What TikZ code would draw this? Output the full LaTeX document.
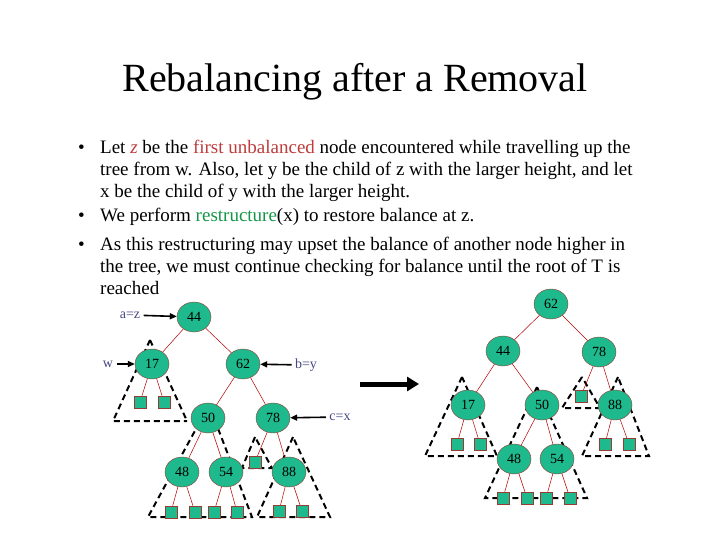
\documentclass[tikz,border=0pt]{standalone}
\usepackage{fontspec}
\setmainfont{Liberation Serif}
\usetikzlibrary{shapes.geometric,arrows.meta}
\definecolor{nfill}{RGB}{30,185,140}
\definecolor{nbord}{RGB}{150,60,50}
\definecolor{redt}{RGB}{190,60,60}
\definecolor{greent}{RGB}{20,150,70}
\definecolor{labt}{RGB}{70,70,130}
\tikzset{
 tn/.style={ellipse,draw=nbord,fill=nfill,minimum width=34,minimum height=30,inner sep=0,font=\fontsize{14}{14}\selectfont},
 lf/.style={rectangle,draw=nbord,fill=nfill,minimum size=12,inner sep=0},
 ed/.style={draw=red!70!black,line width=0.5},
 tri/.style={draw,dashed,line width=2,dash pattern=on 6pt off 4pt},
 lab/.style={font=\fontsize{14}{14}\selectfont,text=labt},
 la/.style={-{Triangle[length=7pt,width=6pt]},line width=1.6},
 tx/.style={anchor=base west,font=\fontsize{19}{22}\selectfont,inner sep=0}
}
\begin{document}
\begin{tikzpicture}[x=1pt,y=-1pt]
\useasboundingbox (0,0) rectangle (720,540);
\node[anchor=base,font=\fontsize{40}{46}\selectfont,inner sep=0] (title) at (355,92) {Rebalancing after a Removal};
\node[tx] (b1) at (78,154) {•};
\node[tx] (l1) at (100,154) {Let \textcolor{redt}{\itshape z} be the \textcolor{redt}{first unbalanced} node encountered while travelling up the};
\node[tx] (l2) at (100,176) {tree from w. Also, let y be the child of z with the larger height, and let};
\node[tx] (l3) at (100,198) {x be the child of y with the larger height.};
\node[tx] (b2) at (78,222) {•};
\node[tx] (l4) at (100,222) {We perform \textcolor{greent}{restructure}(x) to restore balance at z.};
\node[tx] (b3) at (78,250) {•};
\node[tx] (l5) at (100,250) {As this restructuring may upset the balance of another node higher in};
\node[tx] (l6) at (100,272) {the tree, we must continue checking for balance until the root of T is};
\node[tx] (l7) at (100,294) {reached};
% left tree triangles
\draw[tri] (150,340) -- (113,421) -- (187,421);
\draw[tri] (150,340) -- (187,421);
\draw[tri] (209,405) -- (148,517) -- (252,517) -- cycle;
\draw[tri] (255,437) -- (242,468) -- (272,468) -- cycle;
\draw[tri] (293,437) -- (257,517) -- (330,517) -- cycle;
% left tree
\node[tn] (a44) at (194,317) {44};
\node[tn] (a17) at (152,364) {17};
\node[tn] (a62) at (243,364) {62};
\node[tn] (a50) at (208,418) {50};
\node[tn] (a78) at (273,418) {78};
\node[tn] (a48) at (182,472) {48};
\node[tn] (a54) at (226,472) {54};
\node[tn] (a88) at (289,472) {88};
\node[lf] (s1) at (140,402) {}; \node[lf] (s2) at (164,402) {};
\node[lf] (s3) at (255,462) {};
\node[lf] (s4) at (171,512) {}; \node[lf] (s5) at (195,512) {};
\node[lf] (s6) at (214,512) {}; \node[lf] (s7) at (237,512) {};
\node[lf] (s8) at (279,511) {}; \node[lf] (s9) at (302,511) {};
\foreach \p/\c in {a44/a17,a44/a62,a62/a50,a62/a78,a50/a48,a50/a54,a78/s3,a78/a88,a17/s1,a17/s2,a48/s4,a48/s5,a54/s6,a54/s7,a88/s8,a88/s9}
  \draw[ed] (\p) -- (\c);
\node[lab] (az) at (130,315) {a=z};
\node[lab] (w) at (108,364) {w};
\node[lab] (by) at (306,365) {b=y};
\node[lab] (cx) at (340,417) {c=x};
\draw[la] (az) -- (a44);
\draw[la] (w) -- (a17);
\draw[la] (by) -- (a62);
\draw[la] (cx) -- (a78);
\coordinate (bs) at (360,384); \coordinate (be) at (419,384);
\draw[-{Triangle[length=12pt,width=14pt]},line width=5] (bs) -- (be);
% right tree triangles
\draw[tri] (462,377) -- (425,456) -- (497,456) -- cycle;
\draw[tri] (537,387) -- (485,498) -- (587,498) -- cycle;
\draw[tri] (582,377) -- (562,408) -- (600,408) -- cycle;
\draw[tri] (618,377) -- (582,456) -- (649,456) -- cycle;
% right tree
\node[tn] (b62) at (551,304) {62};
\node[tn] (b44) at (503,351) {44};
\node[tn] (b78) at (599,352) {78};
\node[tn] (b17) at (468,405) {17};
\node[tn] (b50) at (542,405) {50};
\node[tn] (b88) at (615,405) {88};
\node[tn] (b48) at (514,459) {48};
\node[tn] (b54) at (557,459) {54};
\node[lf] (r1) at (457,444) {}; \node[lf] (r2) at (480,444) {};
\node[lf] (r3) at (581,396) {};
\node[lf] (r4) at (605,444) {}; \node[lf] (r5) at (629,444) {};
\node[lf] (r6) at (503,498) {}; \node[lf] (r7) at (527,498) {};
\node[lf] (r8) at (546,498) {}; \node[lf] (r9) at (570,498) {};
\foreach \p/\c in {b62/b44,b62/b78,b44/b17,b44/b50,b78/r3,b78/b88,b17/r1,b17/r2,b88/r4,b88/r5,b50/b48,b50/b54,b48/r6,b48/r7,b54/r8,b54/r9}
  \draw[ed] (\p) -- (\c);
\end{tikzpicture}
\end{document}
